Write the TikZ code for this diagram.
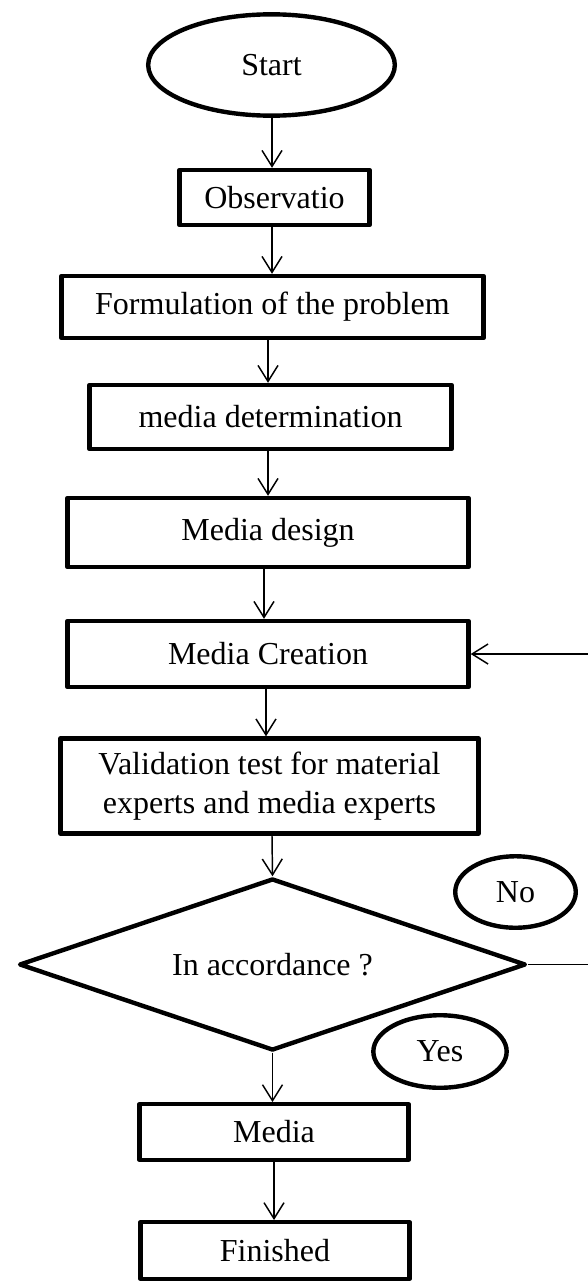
\documentclass[tikz,border=0pt]{standalone}
\usepackage{fontspec}
\setmainfont{Liberation Serif}
\usetikzlibrary{shapes.geometric,arrows.meta}
\begin{document}
\begin{tikzpicture}[x=0.75pt,y=-0.75pt,
  every node/.style={font=\fontsize{24}{29}\selectfont, align=center, inner sep=0pt},
  box/.style={draw, line width=3.3pt, line join=round, rectangle},
  oval/.style={draw, line width=3.3pt, ellipse},
  decision/.style={draw, line width=3.3pt, line join=round, diamond, aspect=2.9},
  arr/.style={line width=1.1pt, -{Straight Barb[length=12pt,width=15pt]}},
  plain/.style={line width=1.1pt}]
\useasboundingbox (0,0) rectangle (587,1284);

\node[oval, minimum width=185pt, minimum height=76pt] (start) at (271.5,65) {Start};
\node[box, minimum width=142.5pt, minimum height=41.25pt] (obs) at (274.5,197.5) {Observatio};
\node[box, minimum width=316.5pt, minimum height=46.5pt] (form) at (272.5,307) {Formulation of the problem};
\node[box, minimum width=271.5pt, minimum height=48pt] (mdet) at (270.5,417) {media determination};
\node[box, minimum width=300.75pt, minimum height=51.75pt] (mdes) at (268,532.5) {Media design};
\node[box, minimum width=300.75pt, minimum height=49.5pt] (mcre) at (268,654) {Media Creation};
\node[box, minimum width=313.5pt, minimum height=71.25pt] (valid) at (269.5,786) {Validation test for material\\experts and media experts};
\node[decision, minimum width=380pt, minimum height=129pt] (dec) at (272.5,964.5) {In accordance ?};
\node[oval, minimum width=90.4pt, minimum height=53.6pt] (no) at (515.5,892) {No};
\node[oval, minimum width=100pt, minimum height=54.4pt] (yes) at (440,1051.5) {Yes};
\node[box, minimum width=202pt, minimum height=41.6pt] (media) at (274,1132) {Media};
\node[box, minimum width=202pt, minimum height=42.4pt] (fin) at (275,1250.5) {Finished};

\coordinate (fbx) at (620,0);

\draw[arr] (start.south -| 272,0) -- (272,0 |- obs.north);
\draw[arr] (obs.south -| 272,0) -- (272,0 |- form.north);
\draw[arr] (form.south -| 268,0) -- (268,0 |- mdet.north);
\draw[arr] (mdet.south -| 268,0) -- (268,0 |- mdes.north);
\draw[arr] (mdes.south -| 264,0) -- (264,0 |- mcre.north);
\draw[arr] (mcre.south -| 266,0) -- (266,0 |- valid.north);
\draw[arr] (valid.south -| 272,0) -- (dec.north);
\draw[arr] (dec.south) -- (272.5,0 |- media.north);
\draw[arr] (media.south -| 274,0) -- (274,0 |- fin.north);
\draw[arr] (dec.east) -- (dec.east -| fbx) |- (mcre.east);
\end{tikzpicture}
\end{document}
